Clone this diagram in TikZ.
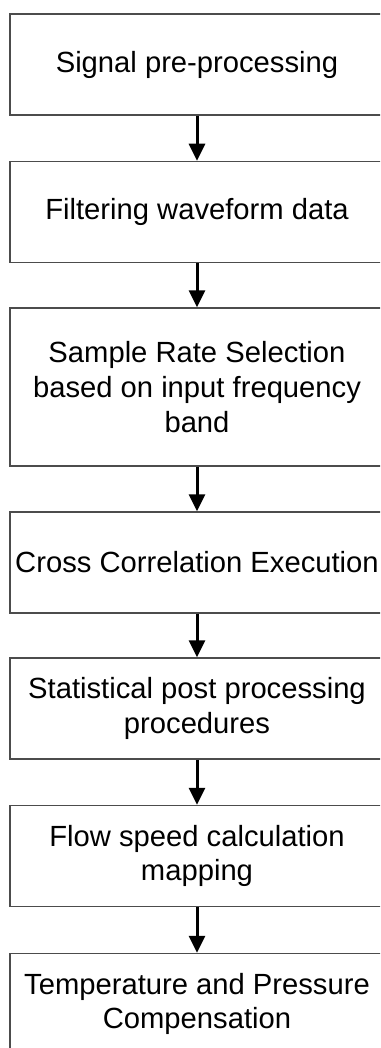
\documentclass[tikz,border=0pt]{standalone}
\usepackage{fontspec}
\setmainfont{Liberation Sans}
\usetikzlibrary{arrows.meta}
\tikzset{stepbox/.style={rectangle,draw=black!70,line width=0.75pt,minimum width=187pt,minimum height=50.5pt,align=center,inner sep=0pt,font=\fontsize{14.6}{17.3}\selectfont},
  flowarrow/.style={-{Triangle[width=8pt,length=8.5pt]},line width=1.5pt}}
\newcommand{\stepnode}{\node[stepbox]}

\begin{document}
\begin{tikzpicture}[x=0.5pt,y=-0.5pt]
          \useasboundingbox (0,0) rectangle (380,1048);
          \clip (0,0) rectangle (380,1048);
          \stepnode (pre) at (197,64.5) {Signal pre-processing}; %
          \stepnode (filt) at (197,212) {Filtering waveform data}; %
          \stepnode[minimum height=79pt] (rate) at (197,387) {Sample Rate Selection\\based on input frequency\\band};
          \stepnode (xcorr) at (197,562.5) {Cross Correlation Execution};
          \stepnode (stat) at (197,708.5) {Statistical post processing\\procedures};
          \stepnode (flow) at (197,856) {Flow speed calculation\\mapping};
          \stepnode (comp) at (197,1004) {Temperature and Pressure\\Compensation};
          \draw[flowarrow] (pre) -- (filt);
          \draw[flowarrow] (filt) -- (rate);
          \draw[flowarrow] (rate) -- (xcorr);
          \draw[flowarrow] (xcorr) -- (stat);
          \draw[flowarrow] (stat) -- (flow);
          \draw[flowarrow] (flow) -- (comp);
        \end{tikzpicture}
\end{document}
